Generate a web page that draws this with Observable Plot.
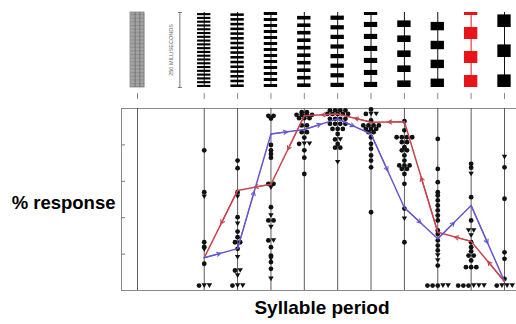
<!DOCTYPE html>
<html><head><meta charset="utf-8">
<script src="https://cdn.jsdelivr.net/npm/d3@7"></script>
<script src="https://cdn.jsdelivr.net/npm/@observablehq/plot@0.6"></script>
<style>
body{margin:0;background:#fff;}
#chart{width:516px;height:324px;overflow:hidden;}
#chart svg{display:block;}
</style></head><body><div id="chart"></div>
<script>
// Stimulus syllable periods (ms), one per data column (after the continuous sound)
const periods = [12.6, 15.8, 20, 25, 32, 40, 50, 63, 80, 100];
const syllableDur = [7, 8.5, 10, 12, 14, 17, 22, 28, 40, 42];
const stimulusMs = 250;
const scaleBarLabel = "250 MILLISECONDS";
const highlightPeriod = 80;
const yTicks = [20, 40, 60, 80];

// Mean response curves (% response) per period
const ascending  = [18, 23, 86, 88.5, 94.3, 86, 45.5, 28.4, 46.7, 5];
const descending = [18, 55, 58.4, 96, 97, 92.5, 92.7, 32, 27, 5];

// Individual responses (% response), circles and triangles, per period
const circleValues = [
  [77, 54, 26.5, 24, 14.7, 2.7],
  [71.4, 67.2, 54, 40.3, 32.4, 29.3, 26.5, 26.5, 22.9, 11, 2.7],
  [96, 96, 94.5, 80, 77, 75, 73, 58.6, 58.6, 45.8, 38.5, 38.5, 27.5, 23.8, 19.2, 15.6, 11.9],
  [98, 98, 96.5, 96.5, 96.5, 96.5, 94.7, 94.7, 94.7, 90.7, 90.7, 87, 87, 84, 80.6, 77, 73, 64],
  [99, 99, 99, 99, 97, 97, 97, 97, 97, 94.3, 94.3, 94.3, 94.3, 91.6, 91.6, 91.6, 91.6, 88.8, 88.8, 88.8, 86, 83, 80.5, 78.5, 78.5],
  [99.5, 97, 93.4, 90.7, 90.7, 90.7, 90.7, 88.8, 88.8, 88.8, 87, 87, 84.2, 80.6, 77.9, 74.2, 71.4, 67.7, 43],
  [93, 88, 84.2, 84.2, 84.2, 84.2, 81.5, 81.5, 78.7, 77, 77, 74.2, 71.4, 68.7, 68.7, 68.7, 66.8, 66.8, 64, 58.6, 45, 26.5],
  [83.3, 66.8, 59.5, 54, 52.2, 49.5, 46.7, 44, 41.2, 38.5, 33, 31, 27.5, 24.7, 22, 13.7, 2.7, 2.7, 2.7],
  [69.6, 67.5, 51.3, 38.5, 26.5, 23.8, 21.5, 19.2, 19.2, 16.5, 12.8, 12.8, 12.8, 2.7, 2.7, 2.7],
  [67.7, 50.4, 21, 17.4, 6.4, 2.7]
];
const triangleValues = [
  [51.5, 22.5, 2.7, 2.7],
  [51.5, 36.6, 18.3, 11, 8.2, 2.7, 2.7],
  [56.5, 41.2, 34.8, 27.5, 17.4, 6.4],
  [80.6, 80.6],
  [83, 70.5],
  [97, 97],
  [39.4],
  [19.2, 16.5, 2.7, 2.7],
  [64, 33, 33, 30.2, 2.7, 2.7, 2.7],
  [73.3, 2.7, 2.7, 2.7]
];

// ---- derived tables ----
// column index: 0 = continuous sound, 1 = scale bar gap, 2.. = periods
const colOf = i => i + 2;
const columns = [0, ...periods.map((p, i) => colOf(i))];
const X = {type: "linear", domain: [0, 11], range: [137, 504]};
const font = "Liberation Sans, Arial, Helvetica, sans-serif";

// syllable bars of each stimulus
const bars = [];
periods.forEach((P, i) => {
  const D = syllableDur[i];
  for (let end = stimulusMs; end > 0; end -= P) {
    bars.push({col: colOf(i), y1: Math.max(0, end - D), y2: end, red: P === highlightPeriod});
  }
});
const stems = periods.map((P, i) => ({col: colOf(i), red: P === highlightPeriod}));
// fine hatch texture of the continuous (unmodulated) sound
const hatch = d3.range(2, stimulusMs, 4.6);

const stimPanel = Plot.plot({
  width: 516, height: 100, marginTop: 12, marginBottom: 13, marginLeft: 0, marginRight: 0,
  x: X,
  y: {domain: [0, stimulusMs], reverse: true, axis: null},
  style: {fontFamily: font, background: "#fff"},
  marks: [
    Plot.rect([0], {x1: d => d - 0.21, x2: d => d + 0.21, y1: () => 0, y2: () => stimulusMs, fill: "#c4c4c4", stroke: "#777", strokeWidth: 0.7}),
    Plot.link(hatch, {x1: () => -0.21, x2: () => 0.21, y1: d => d, y2: d => d, stroke: "#6a6a6a", strokeWidth: 0.6}),
    Plot.ruleX([-0.07, 0.07], {x: d => d, y1: () => 0, y2: () => stimulusMs, stroke: "#666", strokeWidth: 0.7}),
    Plot.ruleX(stems, {x: "col", y1: () => 0, y2: () => stimulusMs, stroke: d => d.red ? "#e8141b" : "#111", strokeWidth: 1}),
    Plot.rect(bars, {x1: d => d.col - 0.2, x2: d => d.col + 0.2, y1: "y1", y2: "y2", fill: d => d.red ? "#e8141b" : "#000"}),
    Plot.ruleX([1], {x: d => d, y1: () => 0, y2: () => stimulusMs, dx: 9, stroke: "#777", strokeWidth: 1}),
    Plot.link([0, stimulusMs], {x1: () => 1 - 0.06, x2: () => 1 + 0.06, y1: d => d, y2: d => d, dx: 9, stroke: "#777"}),
    Plot.text([scaleBarLabel], {x: () => 1, y: () => stimulusMs / 2, text: d => d, rotate: -90, fontSize: 5.5, fill: "#666"}),
    Plot.axisX({anchor: "bottom", ticks: columns, tickSize: 6, tickFormat: () => "", label: null, dy: 6, stroke: "#888"})
  ]
});

// individual responses with side-by-side offsets for equal values
const dots = [];
periods.forEach((P, i) => {
  const items = [
    ...circleValues[i].map(v => ({v, sym: "c"})),
    ...triangleValues[i].map(v => ({v, sym: "t"}))
  ];
  const groups = d3.group(items, d => Math.round(d.v * 10));
  for (const g of groups.values()) {
    g.forEach((d, k) => dots.push({x: colOf(i) + (k - (g.length - 1) / 2) * 0.155, y: d.v, sym: d.sym}));
  }
});

const triDown = {draw(ctx, size) {
  const s = Math.sqrt(size);
  const w = 0.62 * s, h = 0.52 * s;
  ctx.moveTo(-w, -h); ctx.lineTo(w, -h); ctx.lineTo(0, h); ctx.closePath();
}};

const asc = periods.map((P, i) => ({x: colOf(i), y: ascending[i]}));
const desc = periods.map((P, i) => ({x: colOf(i), y: descending[i]}));
const segs = (pts, reverse) => {
  const out = [];
  for (let i = 0; i < pts.length - 1; i++) {
    const a = reverse ? pts[i + 1] : pts[i], b = reverse ? pts[i] : pts[i + 1];
    out.push({x1: a.x, y1: a.y, x2: (a.x + b.x) / 2, y2: (a.y + b.y) / 2});
  }
  return out;
};
const blue = "#6457d2", red = "#c8444e";

const mainPanel = Plot.plot({
  width: 516, height: 224, marginTop: 8, marginBottom: 34, marginLeft: 121, marginRight: -6,
  x: {...X, axis: null},
  y: {domain: [0, 100]},
  style: {fontFamily: font, background: "#fff", overflow: "hidden"},
  marks: [
    Plot.frame({stroke: "#8a8a8a"}),
    Plot.ruleX(columns, {x: d => d, stroke: "#4a4a4a", strokeWidth: 0.9}),
    Plot.axisY({anchor: "left", ticks: yTicks, tickSize: 4, tickFormat: () => "", label: null, dx: 4, stroke: "#777"}),
    Plot.dot(dots.filter(d => d.sym === "c"), {x: "x", y: "y", r: 2.4, fill: "#111", stroke: "none"}),
    Plot.dot(dots.filter(d => d.sym === "t"), {x: "x", y: "y", r: 2.5, symbol: triDown, fill: "#111", stroke: "none"}),
    Plot.line(desc, {x: "x", y: "y", stroke: red, strokeWidth: 1.5}),
    Plot.line(asc, {x: "x", y: "y", stroke: blue, strokeWidth: 1.5}),
    Plot.arrow(segs(desc, true), {x1: "x1", y1: "y1", x2: "x2", y2: "y2", stroke: red, strokeWidth: 1.1, headLength: 6, headAngle: 55}),
    Plot.arrow(segs(asc, false), {x1: "x1", y1: "y1", x2: "x2", y2: "y2", stroke: blue, strokeWidth: 1.1, headLength: 6, headAngle: 55}),
    Plot.text(["% response"], {frameAnchor: "left", text: d => d, textAnchor: "end", dx: -6, dy: 4, fontSize: 18.5, fontWeight: "bold", fill: "#000"}),
    Plot.text(["Syllable period"], {frameAnchor: "bottom", text: d => d, dy: 23, fontSize: 19, fontWeight: "bold", fill: "#000"})
  ]
});

document.getElementById("chart").append(stimPanel, mainPanel);
</script>
</body></html>
